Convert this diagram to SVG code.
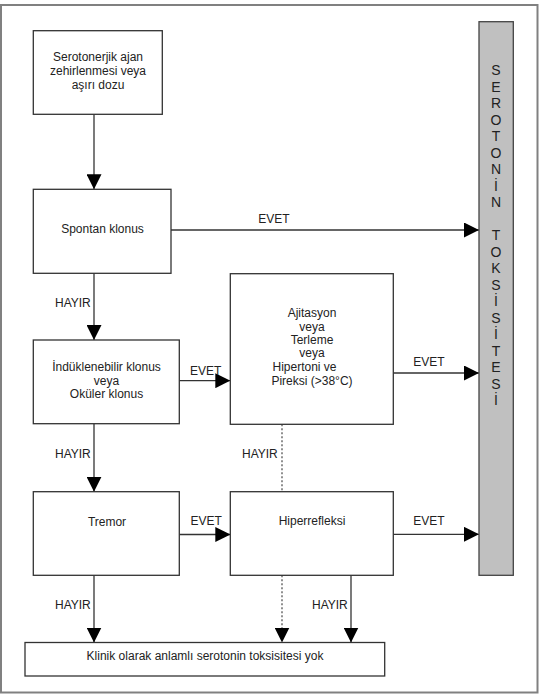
<svg xmlns="http://www.w3.org/2000/svg" width="541" height="695" viewBox="0 0 541 695">
<style>
text{font-family:"Liberation Sans",Arial,sans-serif;font-size:12px;fill:#222}
.box{fill:#fff;stroke:#333;stroke-width:1.3}
.bar{fill:#c0c0c0;stroke:#444;stroke-width:1.3}
.ln{fill:none;stroke:#333;stroke-width:1.3}
.dot{fill:none;stroke:#555;stroke-width:1.3;stroke-dasharray:2 2}
.c{text-anchor:middle}
.v{font-size:14px;text-anchor:middle}
</style>
<defs>
<marker id="ah" markerUnits="userSpaceOnUse" markerWidth="15" markerHeight="15" refX="15" refY="7.5" orient="auto" viewBox="0 0 15 15">
<path d="M0,0 L15,7.5 L0,15 z" fill="#000"/>
</marker>
</defs>
<rect x="1" y="5" width="536.5" height="687.5" fill="#fff" stroke="#808080" stroke-width="2"/>
<g id="connectors">
<line class="ln" x1="94" y1="114.3" x2="94" y2="189.3" marker-end="url(#ah)"/>
<line class="ln" x1="171" y1="230" x2="479" y2="230" marker-end="url(#ah)"/>
<text class="c" x="274" y="222.5">EVET</text>
<line class="ln" x1="94" y1="273.3" x2="94" y2="340" marker-end="url(#ah)"/>
<text x="55" y="306.5">HAYIR</text>
<line class="ln" x1="179.3" y1="380.7" x2="230.3" y2="380.7" marker-end="url(#ah)"/>
<text x="190" y="374.5">EVET</text>
<line class="ln" x1="393.3" y1="373" x2="479" y2="373" marker-end="url(#ah)"/>
<text x="413.3" y="366">EVET</text>
<line class="ln" x1="94" y1="423.7" x2="94" y2="491.7" marker-end="url(#ah)"/>
<text x="55" y="457.5">HAYIR</text>
<line class="dot" x1="282" y1="424.3" x2="282" y2="491.7"/>
<text x="242" y="457.5">HAYIR</text>
<line class="ln" x1="179.3" y1="534.5" x2="230.3" y2="534.5" marker-end="url(#ah)"/>
<text x="190.5" y="524.5">EVET</text>
<line class="ln" x1="393.3" y1="534.3" x2="479" y2="534.3" marker-end="url(#ah)"/>
<text x="413.3" y="524.5">EVET</text>
<line class="ln" x1="94" y1="575.3" x2="94" y2="642.5" marker-end="url(#ah)"/>
<text x="55" y="608.5">HAYIR</text>
<line class="dot" x1="282" y1="575.3" x2="282" y2="628"/>
<line class="ln" x1="282" y1="627" x2="282" y2="642.5" stroke-opacity="0" marker-end="url(#ah)"/>
<line class="ln" x1="351" y1="575.3" x2="351" y2="642.5" marker-end="url(#ah)"/>
<text x="312" y="608.5">HAYIR</text>
</g>
<g id="bar">
<rect class="bar" x="479" y="21.7" width="34.3" height="553.6"/>
<text class="v" x="496" y="75">S</text>
<text class="v" x="496" y="91.5">E</text>
<text class="v" x="496" y="108">R</text>
<text class="v" x="496" y="124.5">O</text>
<text class="v" x="496" y="141">T</text>
<text class="v" x="496" y="157.5">O</text>
<text class="v" x="496" y="174">N</text>
<text class="v" x="496" y="190.5">İ</text>
<text class="v" x="496" y="207">N</text>
<text class="v" x="496" y="240">T</text>
<text class="v" x="496" y="256.5">O</text>
<text class="v" x="496" y="273">K</text>
<text class="v" x="496" y="289.5">S</text>
<text class="v" x="496" y="306">İ</text>
<text class="v" x="496" y="322.5">S</text>
<text class="v" x="496" y="339">İ</text>
<text class="v" x="496" y="355.5">T</text>
<text class="v" x="496" y="372">E</text>
<text class="v" x="496" y="388.5">S</text>
<text class="v" x="496" y="405">İ</text>
</g>
<g id="n1">
<rect class="box" x="33.3" y="30.7" width="129" height="83.6"/>
<text class="c" x="98" y="61">Serotonerjik ajan</text>
<text class="c" x="98" y="75">zehirlenmesi veya</text>
<text class="c" x="98" y="88.5">aşırı dozu</text>
</g>
<g id="n2">
<rect class="box" x="33.3" y="189.3" width="137.7" height="84"/>
<text class="c" x="102.5" y="233">Spontan klonus</text>
</g>
<g id="n3">
<rect class="box" x="230.3" y="273.7" width="163" height="150.6"/>
<text class="c" x="312" y="317">Ajitasyon</text>
<text class="c" x="312" y="330.5">veya</text>
<text class="c" x="312" y="344">Terleme</text>
<text class="c" x="312" y="357">veya</text>
<text class="c" x="304.5" y="370.5">Hipertoni ve</text>
<text class="c" x="312" y="384.5">Pireksi (&gt;38°C)</text>
</g>
<g id="n4">
<rect class="box" x="33.3" y="340" width="146" height="83.7"/>
<text class="c" x="106.5" y="371">İndüklenebilir klonus</text>
<text class="c" x="106.5" y="384.5">veya</text>
<text class="c" x="106.5" y="397.5">Oküler klonus</text>
</g>
<g id="n5">
<rect class="box" x="33.3" y="491.7" width="146" height="83.6"/>
<text class="c" x="107" y="525.5">Tremor</text>
</g>
<g id="n6">
<rect class="box" x="230.3" y="491.7" width="163" height="83.6"/>
<text class="c" x="312" y="525">Hiperrefleksi</text>
</g>
<g id="n7">
<rect class="box" x="25" y="642.5" width="359.7" height="33.5"/>
<text class="c" x="205" y="659.5">Klinik olarak anlamlı serotonin toksisitesi yok</text>
</g>
</svg>
